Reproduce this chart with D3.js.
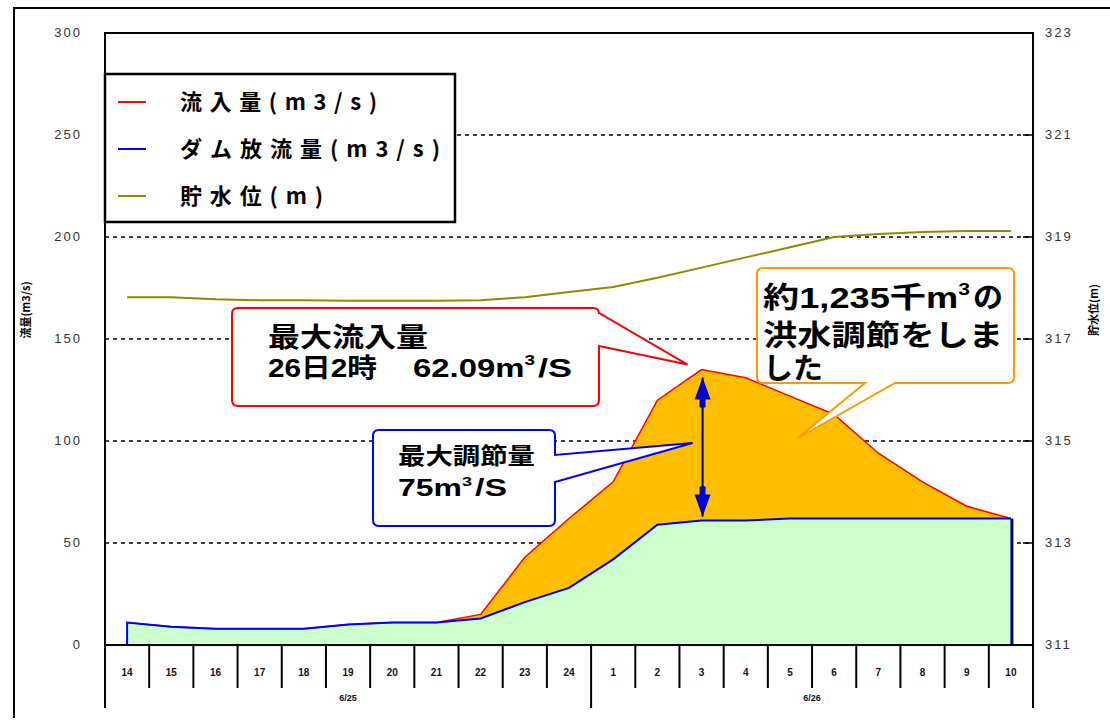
<!DOCTYPE html>
<html>
<head>
<meta charset="utf-8">
<script src="https://cdnjs.cloudflare.com/ajax/libs/d3/7.8.5/d3.min.js"></script>
<style>
    body { margin: 0; background: #fff; }
    .jp { font-family: "Noto Sans CJK JP", sans-serif; font-weight: bold; fill: #000; }
    .note { font-family: "Liberation Sans", "Noto Sans CJK JP", sans-serif; font-weight: bold; fill: #000; }
    .num { font-family: "Liberation Sans", Arial, sans-serif; fill: #333; }
</style>
</head>
<body>
<div id="chart"></div>
<script>
    // x axis: hours of two days
    var hours25 = ["14", "15", "16", "17", "18", "19", "20", "21", "22", "23", "24"];
    var hours26 = ["1", "2", "3", "4", "5", "6", "7", "8", "9", "10"];
    var days = ["6/25", "6/26"];

    // 流入量 (m3/s)
    var inflow = [11, 9, 8, 8, 8, 10, 11, 11, 15, 43, 62, 80, 120, 135, 131, 122, 113, 94, 80, 68, 62];
    // ダム放流量 (m3/s)
    var outflow = [11, 9, 8, 8, 8, 10, 11, 11, 13, 21, 28, 42, 59, 61, 61, 62, 62, 62, 62, 62, 62];
    // 貯水位 (m)
    var level = [317.82, 317.82, 317.78, 317.76, 317.76, 317.75, 317.75, 317.75, 317.76, 317.82, 317.92,
                 318.02, 318.2, 318.4, 318.6, 318.8, 319.0, 319.06, 319.1, 319.12, 319.12];

    var yTicks = [0, 50, 100, 150, 200, 250, 300];
    var yRightTicks = [311, 313, 315, 317, 319, 321, 323];
    var gridTicks = [50, 100, 150, 200, 250];

    var legendNames = ["流入量(m3/s)", "ダム放流量(m3/s)", "貯水位(m)"];
    var legendColors = ["#ff0000", "#0000ff", "#8c8c00"];

    var peakIndex = 13; // 26日3時

    var mLeft = 105, mRight = 1033, mTop = 33, mBottom = 645;

    var keys = hours25.map(function (h) { return "25-" + h; })
        .concat(hours26.map(function (h) { return "26-" + h; }));
    var labels = hours25.concat(hours26);

    var data = keys.map(function (k, i) {
        return {key: k, inflow: inflow[i], outflow: outflow[i], level: level[i]};
    });

    var x = d3.scaleBand().domain(keys).range([mLeft, mRight]);
    var y = d3.scaleLinear().domain([0, 300]).range([mBottom, mTop]);
    var yR = d3.scaleLinear().domain([311, 323]).range([mBottom, mTop]);
    function cx(d) { return x(d.key) + x.bandwidth() / 2; }

    var svg = d3.select("#chart").append("svg")
        .attr("width", 1110)
        .attr("height", 720);

    // outer frame
    svg.append("path")
        .attr("d", "M14,718V8H1110")
        .attr("fill", "none")
        .attr("stroke", "#000")
        .attr("stroke-width", 2);

    // dotted gridlines
    svg.selectAll(".grid")
        .data(gridTicks)
        .enter().append("line")
        .attr("class", "grid")
        .attr("x1", mLeft).attr("x2", mRight)
        .attr("y1", function (d) { return y(d); })
        .attr("y2", function (d) { return y(d); })
        .attr("stroke", "#000")
        .attr("stroke-width", 1.5)
        .attr("stroke-dasharray", "4,4");

    // right axis inward ticks
    svg.selectAll(".rtick")
        .data(yRightTicks.slice(1, -1))
        .enter().append("line")
        .attr("x1", mRight - 10).attr("x2", mRight)
        .attr("y1", function (d) { return yR(d); })
        .attr("y2", function (d) { return yR(d); })
        .attr("stroke", "#000")
        .attr("stroke-width", 1.5);

    // green area under outflow
    svg.append("path")
        .datum(data)
        .attr("fill", "#ccffcc")
        .attr("d", d3.area().x(cx).y0(y(0)).y1(function (d) { return y(d.outflow); }));

    // orange area between outflow and inflow
    svg.append("path")
        .datum(data)
        .attr("fill", "#ffbf00")
        .attr("d", d3.area().x(cx)
            .y0(function (d) { return y(d.outflow); })
            .y1(function (d) { return y(d.inflow); }));

    // inflow line
    svg.append("path")
        .datum(data)
        .attr("fill", "none")
        .attr("stroke", legendColors[0])
        .attr("stroke-width", 1.5)
        .attr("d", d3.line().x(cx).y(function (d) { return y(d.inflow); }));

    // outflow line (rises from zero at the first hour)
    var outPts = [[cx(data[0]), y(0)]].concat(data.map(function (d) { return [cx(d), y(d.outflow)]; }));
    svg.append("path")
        .attr("fill", "none")
        .attr("stroke", legendColors[1])
        .attr("stroke-width", 2)
        .attr("d", d3.line()(outPts));

    var last = data[data.length - 1];
    svg.append("line")
        .attr("x1", cx(last) + 1).attr("x2", cx(last) + 1)
        .attr("y1", y(last.outflow)).attr("y2", y(0))
        .attr("stroke", "#000080")
        .attr("stroke-width", 3);

    // water level line
    svg.append("path")
        .datum(data)
        .attr("fill", "none")
        .attr("stroke", legendColors[2])
        .attr("stroke-width", 2)
        .attr("d", d3.line().x(cx).y(function (d) { return yR(d.level); }));

    // plot frame
    svg.append("path")
        .attr("d", "M" + mLeft + ",708V" + mTop + "H" + mRight + "V708")
        .attr("fill", "none")
        .attr("stroke", "#000")
        .attr("stroke-width", 2);
    svg.append("line")
        .attr("x1", mLeft).attr("x2", mRight)
        .attr("y1", mBottom).attr("y2", mBottom)
        .attr("stroke", "#000")
        .attr("stroke-width", 2);

    // left y labels
    svg.selectAll(".ly")
        .data(yTicks)
        .enter().append("text")
        .attr("class", "num")
        .attr("x", 82)
        .attr("y", function (d) { return y(d) + 4; })
        .attr("text-anchor", "end")
        .style("font-size", "13px")
        .style("letter-spacing", "2px")
        .text(function (d) { return d; });

    // right y labels
    svg.selectAll(".ry")
        .data(yRightTicks)
        .enter().append("text")
        .attr("class", "num")
        .attr("x", 1045)
        .attr("y", function (d) { return yR(d) + 4; })
        .style("font-size", "13px")
        .style("letter-spacing", "2px")
        .text(function (d) { return d; });

    // axis titles
    svg.append("text")
        .attr("class", "jp")
        .attr("transform", "translate(30,310) rotate(-90)")
        .attr("text-anchor", "middle")
        .style("font-size", "11px")
        .text("流量(m3/s)");
    svg.append("text")
        .attr("class", "jp")
        .attr("transform", "translate(1098,310) rotate(-90)")
        .attr("text-anchor", "middle")
        .style("font-size", "11px")
        .text("貯水位(m)");

    // x axis separators and hour labels
    var edges = keys.map(function (k) { return x(k); }).concat([mRight]);
    svg.selectAll(".sep")
        .data(edges)
        .enter().append("line")
        .attr("x1", function (d) { return d; })
        .attr("x2", function (d) { return d; })
        .attr("y1", mBottom)
        .attr("y2", function (d, i) { return (i === 0 || i === hours25.length || i === keys.length) ? 708 : 688; })
        .attr("stroke", "#000")
        .attr("stroke-width", 2);

    svg.selectAll(".hl")
        .data(data)
        .enter().append("text")
        .attr("class", "num")
        .attr("x", cx)
        .attr("y", 676)
        .attr("text-anchor", "middle")
        .style("font-size", "10px")
        .style("font-weight", "bold")
        .style("fill", "#111")
        .text(function (d, i) { return labels[i]; });

    var dayCenters = [(mLeft + x(keys[hours25.length])) / 2, (x(keys[hours25.length]) + mRight) / 2];
    svg.selectAll(".dl")
        .data(days)
        .enter().append("text")
        .attr("class", "num")
        .attr("x", function (d, i) { return dayCenters[i]; })
        .attr("y", 701)
        .attr("text-anchor", "middle")
        .style("font-size", "9px")
        .style("font-weight", "bold")
        .style("fill", "#111")
        .text(function (d) { return d; });

    // legend
    var legend = svg.append("g");
    legend.append("rect")
        .attr("x", 105).attr("y", 74)
        .attr("width", 350).attr("height", 148)
        .attr("fill", "#fff")
        .attr("stroke", "#000")
        .attr("stroke-width", 2.5);
    var legendWidths = [197, 260, 143];
    legendNames.forEach(function (name, i) {
        var ly = 102 + i * 47;
        legend.append("line")
            .attr("x1", 118).attr("x2", 146)
            .attr("y1", ly).attr("y2", ly)
            .attr("stroke", legendColors[i])
            .attr("stroke-width", 2);
        legend.append("text")
            .attr("class", "jp")
            .attr("x", 180).attr("y", ly + 8)
            .attr("textLength", legendWidths[i])
            .attr("lengthAdjust", "spacing")
            .style("font-size", "22px")
            .text(name);
    });

    // callout box with pointer
    function calloutPath(b) {
        var r = 6, p = "M" + (b.x0 + r) + "," + b.y0 + "H" + (b.x1 - r) +
            "Q" + b.x1 + "," + b.y0 + " " + b.x1 + "," + (b.y0 + r);
        if (b.side === "right") {
            p += "V" + b.pa + "L" + b.tip[0] + "," + b.tip[1] + "L" + b.x1 + "," + b.pb;
        }
        p += "V" + (b.y1 - r) + "Q" + b.x1 + "," + b.y1 + " " + (b.x1 - r) + "," + b.y1;
        if (b.side === "bottom") {
            p += "H" + b.pb + "L" + b.tip[0] + "," + b.tip[1] + "L" + b.pa + "," + b.y1;
        }
        p += "H" + (b.x0 + r) + "Q" + b.x0 + "," + b.y1 + " " + b.x0 + "," + (b.y1 - r) +
            "V" + (b.y0 + r) + "Q" + b.x0 + "," + b.y0 + " " + (b.x0 + r) + "," + b.y0 + "Z";
        return p;
    }

    var peak = data[peakIndex];
    var boxes = [
        {x0: 232, y0: 308, x1: 599, y1: 406, side: "right", pa: 313, pb: 346,
            tip: [cx(peak) - 14, y(peak.inflow) - 5], color: "#ff0000"},
        {x0: 373, y0: 430, x1: 555, y1: 526, side: "right", pa: 455, pb: 482,
            tip: [cx(peak) - 9, 443], color: "#0000ff"},
        {x0: 757, y0: 268, x1: 1014, y1: 383, side: "bottom", pa: 865, pb: 895,
            tip: [798, 438], color: "#ff9900"}
    ];
    svg.selectAll(".callout")
        .data(boxes)
        .enter().append("path")
        .attr("d", calloutPath)
        .attr("fill", "#fff")
        .attr("stroke", function (d) { return d.color; })
        .attr("stroke-width", 2);

    // callout texts: [box, text, superscript, x, baseline, width, font size]
    var notes = [
        [0, "最大流入量", "", 268, 347, 160, 27],
        [0, "26日2時", "", 268, 377, 109, 26],
        [0, "62.09m", "3", 413, 377, 122, 26],
        [0, "/S", "", 538, 377, 34, 26],
        [1, "最大調節量", "", 398, 464, 137, 23],
        [1, "75m", "3", 398, 496, 74, 23],
        [1, "/S", "", 475, 496, 32, 23],
        [2, "約1,235千m", "3", 763, 308, 207, 29],
        [2, "の", "", 973, 308, 30, 29],
        [2, "洪水調節をしま", "", 763, 346, 240, 29],
        [2, "した", "", 763, 379, 60, 29]
    ];
    // one text element per callout, one tspan per piece
    boxes.forEach(function (b, bi) {
        var t = svg.append("text").attr("class", "note");
        notes.filter(function (n) { return n[0] === bi; }).forEach(function (n) {
            var piece = t.append("tspan")
                .attr("x", n[3])
                .attr("y", n[4])
                .attr("textLength", n[5])
                .attr("lengthAdjust", "spacingAndGlyphs")
                .style("font-size", n[6] + "px");
            piece.append("tspan").text(n[1]);
            if (n[2]) {
                piece.append("tspan")
                    .attr("dy", -Math.round(n[6] * 0.45))
                    .style("font-size", Math.round(n[6] * 0.58) + "px")
                    .text(n[2]);
            }
        });
    });

    // double arrow: max regulated amount at the peak hour
    var ax = cx(peak) + 1, aTop = y(peak.inflow) + 8, aBot = y(peak.outflow) - 4;
    svg.append("line")
        .attr("x1", ax).attr("x2", ax)
        .attr("y1", aTop).attr("y2", aBot)
        .attr("stroke", "#000033")
        .attr("stroke-width", 2);
    svg.append("path")
        .attr("d", "M" + ax + "," + aTop + "L" + (ax - 8) + "," + (aTop + 22) + "H" + (ax - 3) +
            "V" + (aTop + 30) + "H" + (ax + 3) + "V" + (aTop + 22) + "H" + (ax + 8) + "Z")
        .attr("fill", "#0000cc");
    svg.append("path")
        .attr("d", "M" + ax + "," + aBot + "L" + (ax - 8) + "," + (aBot - 22) + "H" + (ax - 3) +
            "V" + (aBot - 30) + "H" + (ax + 3) + "V" + (aBot - 22) + "H" + (ax + 8) + "Z")
        .attr("fill", "#0000cc");
</script>
</body>
</html>
